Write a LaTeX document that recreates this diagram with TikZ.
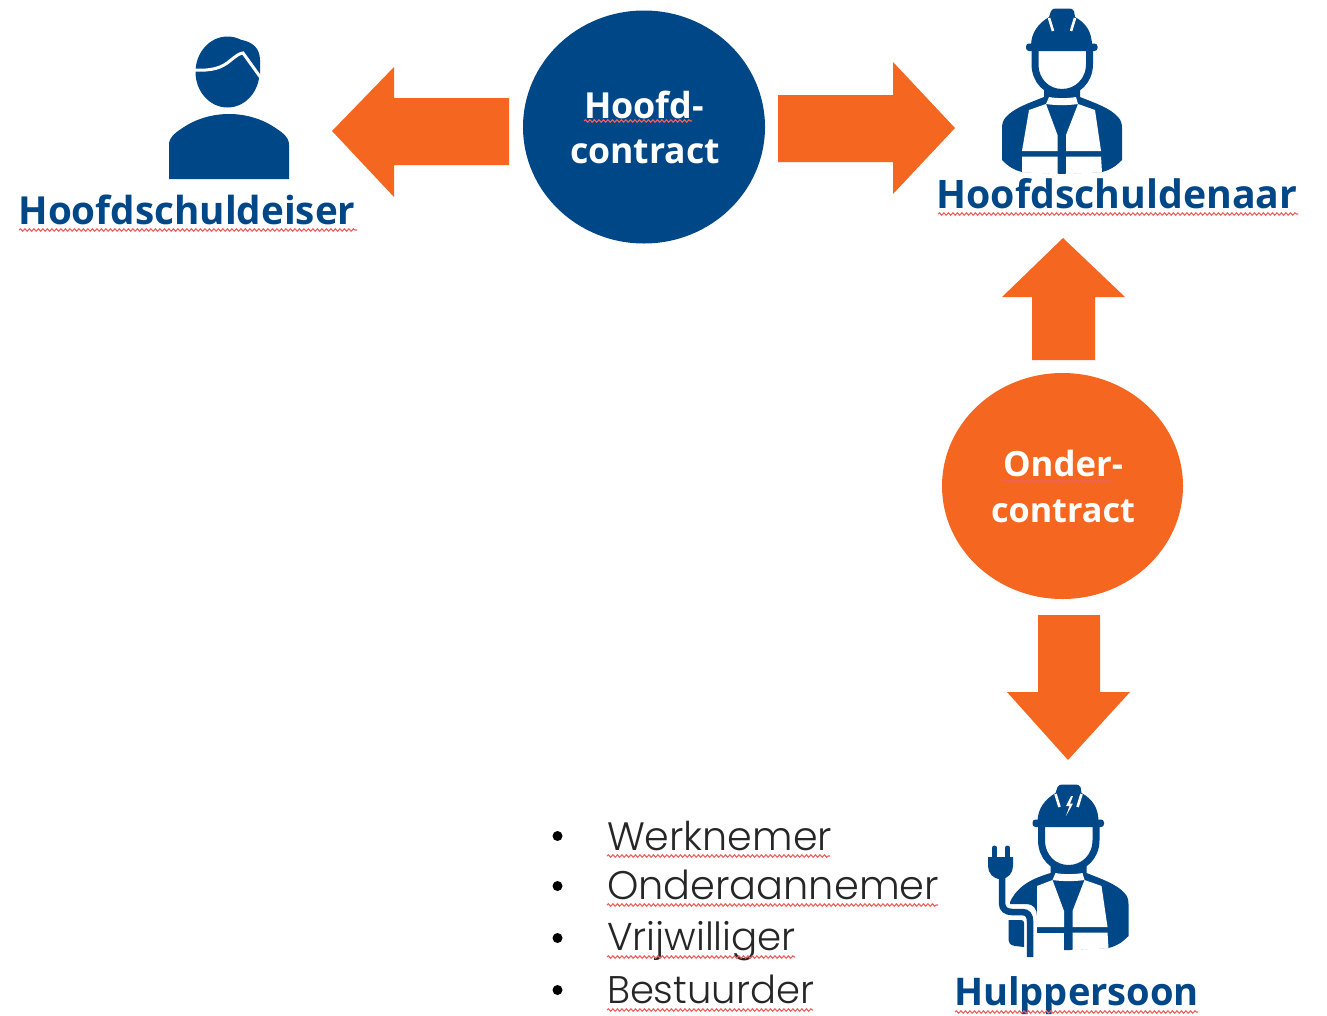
\documentclass[tikz,border=0pt]{standalone}
\usepackage{fontspec}
\usepackage{graphicx}
\setmainfont{Open Sans}
\newfontfamily\boldlabel{Open Sans}[BoldFont={Open Sans Bold}]
\newfontfamily\thinlabel{Poppins Light}
\usetikzlibrary{decorations.pathmorphing}
\definecolor{dblue}{HTML}{004787}
\definecolor{dorange}{HTML}{F56720}
\definecolor{wavered}{HTML}{F0605F}
\tikzset{
  blockarrow/.style={fill=dorange,draw=none},
  bubble/.style={fill,draw=none},
  ink/.style={fill=dblue,draw=none},
  ring/.style={draw=dblue,line width=7pt,line cap=round},
  cutout/.style={fill=white,draw=none},
  wavy/.style={draw=wavered,line width=1.1pt,decorate,decoration={snake,amplitude=1.2pt,segment length=4.5pt}},
  heading/.style={anchor=base west,inner sep=0pt,outer sep=0pt,text=dblue,font=\boldlabel\bfseries\fontsize{40}{40}\selectfont},
  bubbletext/.style={anchor=base,inner sep=0pt,outer sep=0pt,text=white,font=\boldlabel\bfseries\fontsize{38}{38}\selectfont},
  itemtext/.style={anchor=base west,inner sep=0pt,outer sep=0pt,text=black!85,font=\thinlabel\fontsize{42}{42}\selectfont},
  dot/.style={circle,fill=black,inner sep=0pt,minimum size=10pt}
}
\newcommand{\workerhead}{%
  % helmet
  \path[ink] (1031,46) .. controls (1031,32) and (1039,23) .. (1049,17) -- (1051,11)
    .. controls (1052,9) and (1054,8.5) .. (1056,8.5) -- (1069,8.5)
    .. controls (1071,8.5) and (1073,9) .. (1074,11) -- (1075,17)
    .. controls (1086,23) and (1092,32) .. (1092,46) -- cycle;
  \draw[white,line width=2.6pt] (1049,18) -- (1053,31);
  \draw[white,line width=2.6pt] (1075,18) -- (1071,31);
  \path[ink,rounded corners=3pt] (1026,43.5) rectangle (1097.5,51);
  % face ring
  \draw[ring,line cap=butt] (1035,50) -- (1035,64) .. controls (1035,81) and (1047,92.5) .. (1062,92.5)
    .. controls (1077,92.5) and (1089.5,81) .. (1089.5,64) -- (1089.5,50);
}
\newcommand{\vestright}{%
  \path[ink] (1060,92) -- (1080,90) -- (1080,97) .. controls (1095,103) and (1110,108) .. (1118,117)
    .. controls (1121,120) and (1122,124) .. (1122,128) -- (1122,160)
    .. controls (1115,167) and (1110,170) .. (1102,172) -- (1060,174) -- cycle;
  \path[cutout] (1078,104) -- (1095,110) -- (1101,151) -- (1066,151) -- (1066,135) -- cycle;
  \path[cutout] (1066,156.5) -- (1101,156.5) -- (1102,172.2) -- (1066,174.2) -- cycle;
}
\newcommand{\vestmiddle}{%
  \path[cutout] (1049,97) .. controls (1056,98.5) and (1068,98.5) .. (1076,97) -- (1078,104)
    .. controls (1068,105.5) and (1056,105.5) .. (1046,104) -- cycle;
}
\begin{document}
\begin{tikzpicture}[x=1pt,y=-1pt]
\useasboundingbox (0,0) rectangle (1327,1015);

% block arrows
\path[blockarrow] (332,131) -- (394,67) -- (394,98) -- (509,98) -- (509,165) -- (394,165) -- (394,197) -- cycle;
\path[blockarrow] (778,95) -- (893,95) -- (893,62) -- (955,128) -- (893,194) -- (893,162) -- (778,162) -- cycle;
\path[blockarrow] (1063,238) -- (1125,297) -- (1095,297) -- (1095,360) -- (1032,360) -- (1032,297) -- (1002,297) -- cycle;
\path[blockarrow] (1038,615) -- (1100,615) -- (1100,692) -- (1130,692) -- (1068,760) -- (1007,692) -- (1038,692) -- cycle;

% circles
\path[bubble,dblue] (644,127) ellipse [x radius=121,y radius=116.5];
\path[bubble,dorange] (1062.5,486) ellipse [x radius=120.5,y radius=113];

% creditor icon
\path[ink] (227.5,72) ellipse [x radius=32,y radius=35.5];
\path[ink] (242,40) .. controls (252,42) and (260,48) .. (260,60) -- (260,76) -- (240,60) -- cycle;
\draw[white,line width=3pt] (194,70) .. controls (212,71) and (222,68) .. (231,60) .. controls (236,56) and (240,53) .. (243,53) -- (261,78);
\path[ink] (169,179) -- (169,145) .. controls (169,137) and (175,133) .. (181,129)
  .. controls (195,119) and (212,114) .. (229,114) .. controls (246,114) and (263,119) .. (277,129)
  .. controls (283,133) and (289,137) .. (289,145) -- (289,179) -- cycle;

% debtor icon
\begin{scope}
  \workerhead
  \path[ink] (1064,92) -- (1044,90) -- (1044,97) .. controls (1029,103) and (1014,108) .. (1006,117)
    .. controls (1003,120) and (1002,124) .. (1002,128) -- (1002,160)
    .. controls (1009,167) and (1014,170) .. (1022,172) -- (1064,174) -- cycle;
  \vestright
  \path[cutout] (1046,104) -- (1029,110) -- (1022,151) -- (1057.5,151) -- (1057.5,135) -- cycle;
  \path[cutout] (1057.5,156.5) -- (1022,156.5) -- (1022,172.2) -- (1057.5,174.2) -- cycle;
  \vestmiddle
\end{scope}

% helper icon
\begin{scope}[shift={(6.5,776)}]
  \workerhead
  \path[ink] (1064,92) -- (1044,90) -- (1044,97) .. controls (1028,102) and (1012,108) .. (1003.5,126) -- (1003.5,128)
    -- (1020,128) .. controls (1027,128) and (1030.5,133) .. (1030.5,140) -- (1030.5,174) -- (1064,174) -- cycle;
  \vestright
  \path[cutout] (1046,104) -- (1030.5,110) -- (1030.5,151) -- (1057.5,151) -- (1057.5,135) -- cycle;
  \path[cutout] (1057.5,156.5) -- (1030,156.5) -- (1030,176) -- (1057.5,176) -- cycle;
  \vestmiddle
\end{scope}
\draw[dblue,line width=6.5pt] (1002,875) -- (1002,903) .. controls (1002,909) and (1006,912) .. (1012,912) -- (1022,912) .. controls (1028,912) and (1030,916) .. (1030,921) -- (1030,957);
\path[ink] (1008.5,920) -- (1021,920) .. controls (1023,920) and (1024,921) .. (1024,923) -- (1024,947) -- (1015,946) .. controls (1010,945) and (1008.5,943) .. (1008.5,940) -- cycle;
% plug
\path[ink] (988,857) -- (1013,857) -- (1013,866) .. controls (1013,873) and (1008,879) .. (1000.5,879) .. controls (993,879) and (988,873) .. (988,866) -- cycle;
\draw[dblue,line width=5pt,line cap=round] (994.5,848) -- (994.5,858);
\draw[dblue,line width=5pt,line cap=round] (1007.5,848) -- (1007.5,858);
% bolt
\path[cutout] (1071,796) -- (1066,806) -- (1069.5,806) -- (1066,816) -- (1073,803.5) -- (1070,803.5) -- (1073,796) -- cycle;

% headings
\node[heading] (creditor) at (18.5,224) {\resizebox{337pt}{!}{Hoofdschuldeiser}};
\node[heading] (debtor) at (936.5,208) {\resizebox{361pt}{!}{Hoofdschuldenaar}};
\node[heading] (helper) at (954,1005) {\resizebox{245pt}{!}{Hulppersoon}};
\node[bubbletext] (mainone) at (644,118) {\resizebox{120pt}{!}{Hoofd-}};
\node[bubbletext] (maintwo) at (645,163) {\resizebox{150pt}{!}{contract}};
\node[bubbletext] (subone) at (1063,476) {\resizebox{120pt}{!}{Onder-}};
\node[bubbletext] (subtwo) at (1063,522) {\resizebox{144pt}{!}{contract}};

% list
\node[itemtext] (itemone) at (607,850) {\resizebox{225pt}{!}{Werknemer}};
\node[itemtext] (itemtwo) at (607,899) {\resizebox{332pt}{!}{Onderaannemer}};
\node[itemtext] (itemthree) at (607,950) {\resizebox{189pt}{!}{Vrijwilliger}};
\node[itemtext] (itemfour) at (607,1003) {\resizebox{207pt}{!}{Bestuurder}};
\node[dot] (dotone) at (557.5,836) {};
\node[dot] (dottwo) at (557.5,886) {};
\node[dot] (dotthree) at (557.5,938) {};
\node[dot] (dotfour) at (557.5,990) {};

% spell-check squiggles
\path[wavy] (19,230) -- (357,230);
\path[wavy] (938,214) -- (1298,214);
\path[wavy] (955,1012) -- (1198,1012);
\path[wavy] (584,121) -- (692,121);
\path[wavy] (1003,481) -- (1112,481);
\path[wavy] (607,856) -- (830,856);
\path[wavy] (607,905) -- (938,905);
\path[wavy] (607,957) -- (795,957);
\path[wavy] (607,1010) -- (813,1010);
\end{tikzpicture}
\end{document}
